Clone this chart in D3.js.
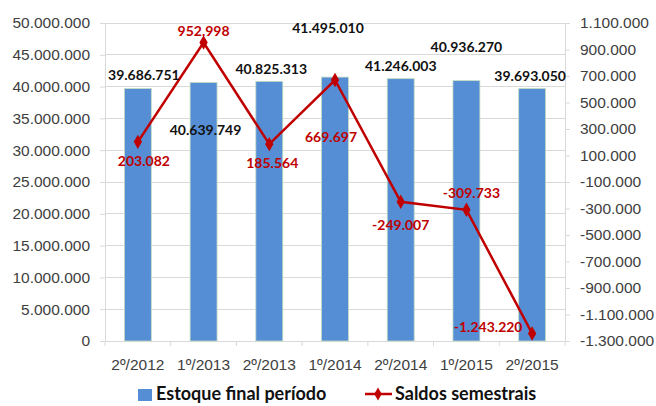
<!DOCTYPE html>
<html><head><meta charset="utf-8">
<script src="https://cdn.jsdelivr.net/npm/d3@7"></script>
<style>body{margin:0;background:#fff}svg{display:block;font-family:Lato,"Open Sans",sans-serif}</style>
</head><body><svg id="c" width="656" height="406"></svg>
<script>
const categories = ["2º/2012","1º/2013","2º/2013","1º/2014","2º/2014","1º/2015","2º/2015"];
const estoque = [39686751,40639749,40825313,41495010,41246003,40936270,39693050];
const saldos = [203082,952998,185564,669697,-249007,-309733,-1243220];
const leftTicks = [0,5000000,10000000,15000000,20000000,25000000,30000000,35000000,40000000,45000000,50000000];
const rightTicks = [-1300000,-1100000,-900000,-700000,-500000,-300000,-100000,100000,300000,500000,700000,900000,1100000];
// label offsets (dx, dy of label centre) relative to the mark
const barLabelOff = [[6,-13],[2,48],[2,-12],[-7,-49],[0,-13],[0,-34],[-2,-12]];
const lineLabelOff = [[6,19],[0,-11],[3,19],[-4,57],[0,23],[5,-17],[-44,-6]];

const fmt = v => {
  const s = Math.abs(v).toString().replace(/\B(?=(\d{3})+(?!\d))/g, ".");
  return (v<0?"-":"") + s;
};
const svg = d3.select("#c");
const L=105,R=565,T=23,B=341;
const x = d3.scaleBand().domain(categories).range([L,R]).paddingInner(0.59).paddingOuter(0.295);
const xb = d3.scaleBand().domain(categories).range([L,R]);
const cx = i => xb(categories[i])+xb.bandwidth()/2;
const y = d3.scaleLinear().domain([0,50000000]).range([B,T]);
const y2 = d3.scaleLinear().domain([-1300000,1100000]).range([B,T]);
const tc="#404040";
// gridlines
svg.append("g").selectAll("line").data(leftTicks.slice(1)).join("line")
  .attr("x1",L).attr("x2",R).attr("y1",d=>y(d)).attr("y2",d=>y(d))
  .attr("stroke","#d9d9d9").attr("stroke-width",1).attr("shape-rendering","crispEdges");
// left axis
const gl = svg.append("g").attr("transform",`translate(${L},0)`)
  .call(d3.axisLeft(y).tickValues(leftTicks).tickFormat(fmt).tickSize(5).tickPadding(10));
gl.select(".domain").attr("stroke","#d9d9d9");
gl.selectAll(".tick line").attr("stroke","#d9d9d9");
gl.selectAll("text").attr("font-size",15.5).attr("fill",tc);
// right axis
const gr = svg.append("g").attr("transform",`translate(${R},0)`)
  .call(d3.axisRight(y2).tickValues(rightTicks).tickFormat(fmt).tickSize(5).tickPadding(10));
gr.select(".domain").attr("stroke","#d9d9d9");
gr.selectAll(".tick line").attr("stroke","#d9d9d9");
gr.selectAll("text").attr("font-size",15.5).attr("fill",tc);
// bottom axis
const gb = svg.append("g").attr("transform",`translate(0,${B})`)
  .call(d3.axisBottom(xb).tickSize(0).tickPadding(18));
gb.select(".domain").attr("stroke","#d9d9d9");
gb.selectAll("text").attr("font-size",15.5).attr("fill",tc);
svg.append("g").selectAll("line").data(d3.range(categories.length+1)).join("line")
  .attr("x1",i=>L+i*xb.step()).attr("x2",i=>L+i*xb.step()).attr("y1",B).attr("y2",B+5)
  .attr("stroke","#d9d9d9");
// bars
svg.append("g").selectAll("rect").data(estoque).join("rect")
  .attr("x",(d,i)=>x(categories[i])).attr("width",x.bandwidth())
  .attr("y",d=>y(d)).attr("height",d=>B-y(d))
  .attr("fill","#558ed5").attr("stroke","#c4dcc0").attr("stroke-width",0.8);
// line
const line = d3.line().x((d,i)=>cx(i)).y(d=>y2(d));
svg.append("path").datum(saldos).attr("d",line).attr("fill","none")
  .attr("stroke","#c00000").attr("stroke-width",2.5);
svg.append("g").selectAll("path").data(saldos).join("path")
  .attr("d",d3.symbol(d3.symbolDiamond,60)())
  .attr("transform",(d,i)=>`translate(${cx(i)},${y2(d)})`)
  .attr("fill","#c00000");
// bar labels
svg.append("g").selectAll("text").data(estoque).join("text")
  .attr("x",(d,i)=>cx(i)+barLabelOff[i][0])
  .attr("y",(d,i)=>y(d)+barLabelOff[i][1]).attr("dy","0.35em")
  .attr("text-anchor","middle").attr("font-size",14).attr("font-weight","bold").attr("fill","#111")
  .text(fmt);
// line labels
svg.append("g").selectAll("text").data(saldos).join("text")
  .attr("x",(d,i)=>cx(i)+lineLabelOff[i][0])
  .attr("y",(d,i)=>y2(d)+lineLabelOff[i][1]).attr("dy","0.35em")
  .attr("text-anchor","middle").attr("font-size",14).attr("font-weight","bold").attr("fill","#c00000")
  .text(fmt);
// legend
const lg = svg.append("g");
lg.append("rect").attr("x",138).attr("y",389).attr("width",14).attr("height",12).attr("fill","#558ed5");
lg.append("text").attr("x",156).attr("y",400).attr("font-size",18).attr("font-weight","bold").attr("fill","#111").text("Estoque final período");
lg.append("line").attr("x1",365).attr("x2",392).attr("y1",394).attr("y2",394).attr("stroke","#c00000").attr("stroke-width",2.5);
lg.append("path").attr("d",d3.symbol(d3.symbolDiamond,50)()).attr("transform","translate(378,394)").attr("fill","#c00000");
lg.append("text").attr("x",395).attr("y",400).attr("font-size",18).attr("font-weight","bold").attr("fill","#111").text("Saldos semestrais");
</script></body></html>
